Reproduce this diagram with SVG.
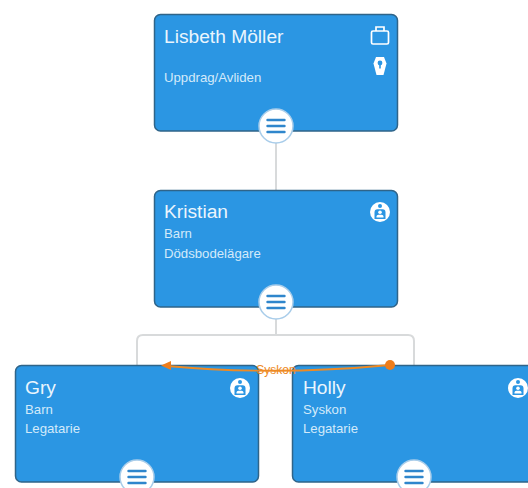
<svg xmlns="http://www.w3.org/2000/svg" width="528" height="488" viewBox="0 0 528 488">
<defs>
<style>
.box{fill:#2b96e3;stroke:#2f6489;stroke-width:1.5}
.name{font:19.2px "Liberation Sans",Arial,sans-serif;fill:#eaf5fd}
.sub{font:13.2px "Liberation Sans",Arial,sans-serif;fill:#d3eafa}
.btn{fill:#fff;stroke:#a9cdea;stroke-width:1.5}
.bar{stroke:#2f86cc;stroke-width:2.4;stroke-linecap:round}
.conn{fill:none;stroke:#d8dadb;stroke-width:2}
.rel{fill:none;stroke:#ee8a24;stroke-width:1.8}
.w{fill:#fff}
.b{fill:#2b96e3}
</style>
<g id="menu"><circle class="btn" r="17"/><path class="bar" d="M-8.500-6H8.500M-8.500 0H8.500M-8.500 6H8.500"/></g>
<g id="person"><circle class="w" r="10"/><circle class="b" cy="-6" r="2"/><path class="b" d="M-5.500 7V0.500Q-5.500-2.800-2.500-2.800H2.500Q5.500-2.800 5.500 0.500V7Z"/><circle class="w" cy="0.300" r="1.800"/><path class="w" d="M-3.500 5.500V4.500Q-3.500 2.800-1.500 2.800H1.500Q3.500 2.800 3.500 4.500V5.500Z"/></g>
</defs>
<rect width="528" height="488" fill="#fff"/>
<g id="connectors">
<path class="conn" d="M276 143V190"/>
<path class="conn" d="M276 319V335M276 335H143Q137 335 137 341V365M276 335H408Q414 335 414 341V365"/>
</g>
<g id="node-lisbeth">
<rect class="box" x="154.500" y="14.500" width="243" height="116.500" rx="6"/>
<text class="name" x="164" y="43">Lisbeth Möller</text>
<text class="sub" x="164" y="82">Uppdrag/Avliden</text>
<g fill="none" stroke="#fff" stroke-width="1.700"><rect x="371.500" y="31" width="17" height="13" rx="1.500"/><path d="M376 31V27H384V31"/></g>
<path class="w" d="M376 57H384L386.500 63.500L383.500 75H376.500L373.500 63.500Z"/><circle class="b" cx="380" cy="63" r="2.400"/><rect class="b" x="379.200" y="63" width="1.600" height="5.500"/>
<use href="#menu" x="276" y="126"/>
</g>
<g id="node-kristian">
<rect class="box" x="154.500" y="190.500" width="243" height="116.500" rx="6"/>
<text class="name" x="164" y="218">Kristian</text>
<text class="sub" x="164" y="238">Barn</text>
<text class="sub" x="164" y="258">Dödsbodelägare</text>
<use href="#person" x="380" y="212"/>
<use href="#menu" x="276" y="302"/>
</g>
<g id="node-gry">
<rect class="box" x="15.500" y="365.500" width="243" height="116.500" rx="6"/>
<text class="name" x="25" y="394">Gry</text>
<text class="sub" x="25" y="414">Barn</text>
<text class="sub" x="25" y="433">Legatarie</text>
<use href="#person" x="240" y="388"/>
<use href="#menu" x="137" y="477"/>
</g>
<g id="node-holly">
<rect class="box" x="292.500" y="365.500" width="243" height="116.500" rx="6"/>
<text class="name" x="303" y="394">Holly</text>
<text class="sub" x="303" y="414">Syskon</text>
<text class="sub" x="303" y="433">Legatarie</text>
<use href="#person" x="518" y="388"/>
<use href="#menu" x="414" y="477"/>
</g>
<g id="relation">
<path class="rel" d="M390 365Q276 376 167 366"/>
<circle cx="390" cy="365" r="5" fill="#ee7d1c"/>
<path d="M161 365.500L171 361V370Z" fill="#ee7d1c"/>
<text x="276" y="374" text-anchor="middle" font-family="'Liberation Sans',Arial,sans-serif" font-size="12" fill="#ee8a24">Syskon</text>
</g>
</svg>
